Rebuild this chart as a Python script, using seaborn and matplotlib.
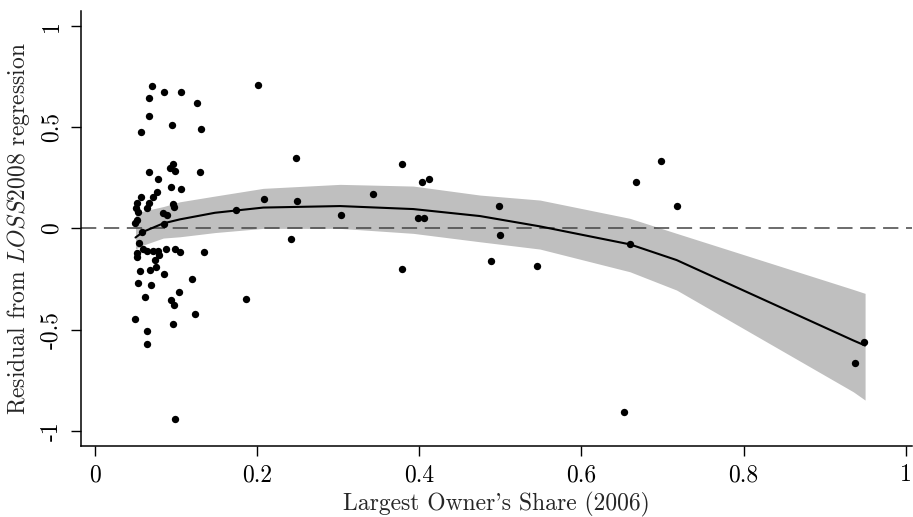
import numpy as np
import pandas as pd
import matplotlib
matplotlib.use("Agg")
import matplotlib.pyplot as plt
import seaborn as sns

# residuals against largest owner's share
share = [0.0696, 0.0848, 0.1054, 0.0666, 0.1257, 0.0666, 0.0946, 0.0568, 0.1307, 0.0666,
         0.0916, 0.0959, 0.0983, 0.1292, 0.0776, 0.0934, 0.1055, 0.0761, 0.0568, 0.0712,
         0.0511, 0.0660, 0.0955, 0.0975, 0.0499, 0.0634, 0.0523, 0.0835, 0.0885, 0.0511,
         0.0492, 0.0850, 0.0582, 0.0543, 0.0592, 0.0642, 0.0712, 0.0777, 0.0786, 0.0733,
         0.0515, 0.0518, 0.0872, 0.0983, 0.1045, 0.1341, 0.0552, 0.0675, 0.0749, 0.0848,
         0.0523, 0.0684, 0.1193, 0.0613, 0.1039, 0.0934, 0.0977, 0.1860, 0.0496, 0.1230,
         0.0955, 0.0642, 0.0642, 0.0983, 0.1736, 0.2004, 0.2480, 0.3785, 0.4031, 0.4114,
         0.3427, 0.2078, 0.2485, 0.3032, 0.3986, 0.4060, 0.4985, 0.4998, 0.2419, 0.4883,
         0.5457, 0.3785, 0.6980, 0.6676, 0.7174, 0.6594, 0.6524, 0.9482, 0.9374]
resid = [0.7026, 0.6730, 0.6730, 0.6434, 0.6187, 0.5545, 0.5101, 0.4756, 0.4904, 0.2806,
         0.3003, 0.3161, 0.2831, 0.2806, 0.2421, 0.2041, 0.1927, 0.1794, 0.1547, 0.1533,
         0.1276, 0.1266, 0.1187, 0.1069, 0.1029, 0.0990, 0.0822, 0.0743, 0.0659, 0.0437,
         0.0264, 0.0200, -0.0195, -0.0723, -0.1034, -0.1093, -0.1118, -0.1093, -0.1315, -0.1562,
         -0.1231, -0.1399, -0.1019, -0.1034, -0.1153, -0.1153, -0.2120, -0.2056, -0.1893, -0.2253,
         -0.2712, -0.2771, -0.2515, -0.3374, -0.3151, -0.3512, -0.3783, -0.3487, -0.4489, -0.4203,
         -0.4696, -0.5052, -0.5684, -0.9410, 0.0906, 0.7075, 0.3487, 0.3161, 0.2303, 0.2421,
         0.1695, 0.1449, 0.1365, 0.0659, 0.0526, 0.0511, 0.1103, -0.0313, -0.0540, -0.1612,
         -0.1844, -0.2006, 0.3310, 0.2273, 0.1118, -0.0787, -0.9050, -0.5610, -0.6661]

# local polynomial fit with 95% band
fit_x = [0.0496, 0.0592, 0.0839, 0.1045, 0.1477, 0.2073, 0.3020, 0.3924, 0.4747,
         0.5487, 0.6598, 0.7174, 0.9354, 0.9500]
fit_y = [-0.0450, -0.0165, 0.0249, 0.0447, 0.0772, 0.1029, 0.1103, 0.0955, 0.0610,
         0.0101, -0.0787, -0.1562, -0.5528, -0.5780]
fit_hi = [0.0708, 0.0856, 0.1078, 0.1315, 0.1597, 0.1977, 0.2174, 0.2090, 0.1646,
          0.1400, 0.0496, -0.0244, -0.3013, -0.3206]
fit_lo = [-0.1019, -0.0822, -0.0476, -0.0412, -0.0205, 0.0002, 0.0002, -0.0244, -0.0659,
          -0.1019, -0.2140, -0.3043, -0.8062, -0.8472]

yticks = [-1, -0.5, 0, 0.5, 1]
ytick_labels = ["-1", "-0.5", "0", "0.5", "1"]
xticks = [0, 0.2, 0.4, 0.6, 0.8, 1]
xtick_labels = ["0", "0.2", "0.4", "0.6", "0.8", "1"]

pts = pd.DataFrame({"share": share, "resid": resid})
fit = pd.DataFrame({"x": fit_x, "y": fit_y, "lo": fit_lo, "hi": fit_hi})

sns.set_style("ticks")
plt.rcParams["font.family"] = ["cmr10", "DejaVu Serif"]
plt.rcParams["mathtext.fontset"] = "cm"
plt.rcParams["axes.unicode_minus"] = False

fig = plt.figure(figsize=(9.13, 5.17), dpi=100)
ax = fig.add_axes([0.0884, 0.1373, 0.9106, 0.8414])

ax.fill_between(fit["x"], fit["lo"], fit["hi"], color="#bfbfbf", linewidth=0, zorder=1)
ax.axhline(0, color="#444444", linewidth=1.1, dashes=(10, 5), zorder=2)
sns.scatterplot(data=pts, x="share", y="resid", ax=ax, color="black", s=28,
                linewidth=0, zorder=3)
sns.lineplot(data=fit, x="x", y="y", ax=ax, color="black", linewidth=1.5,
             estimator=None, sort=False, zorder=4)

ax.set_xlim(-0.018, 1.008)
ax.set_ylim(-1.074, 1.073)
ax.set_xticks(xticks)
ax.set_xticklabels(xtick_labels)
ax.set_yticks(yticks)
ax.set_yticklabels(ytick_labels, rotation=90, va="center")
ax.tick_params(direction="out", length=7, width=1, labelsize=17, pad=6, colors="black")

ax.set_xlabel("Largest Owner's Share (2006)", fontsize=17, labelpad=4)
ax.set_ylabel("Residual from $LOSS$2008 regression", fontsize=17, labelpad=6)

for side in ["top", "right"]:
    ax.spines[side].set_visible(False)
for side in ["left", "bottom"]:
    ax.spines[side].set_linewidth(1.1)
    ax.spines[side].set_color("black")

fig.savefig("out.png", dpi=100)
